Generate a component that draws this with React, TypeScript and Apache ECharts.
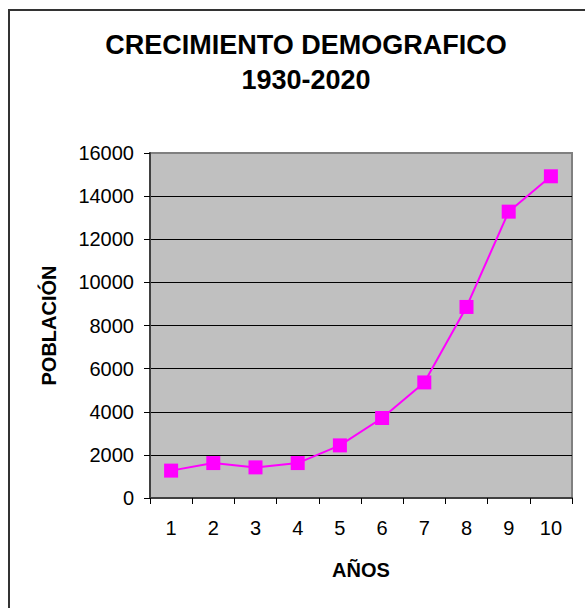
import React, { useEffect, useRef } from "react";
import * as echarts from "echarts";

const categories = ["1", "2", "3", "4", "5", "6", "7", "8", "9", "10"];
const poblacion = [1270, 1620, 1420, 1620, 2440, 3710, 5360, 8860, 13280, 14920];
const titleLines = ["CRECIMIENTO DEMOGRAFICO", "1930-2020"];
const yName = "POBLACIÓN";
const xName = "AÑOS";

export default function App() {
  const ref = useRef<HTMLDivElement>(null);
  useEffect(() => {
    if (!ref.current) return;
    const chart = echarts.init(ref.current, null, { renderer: "svg" });
    const font = "Liberation Sans, Arial, sans-serif";
    chart.setOption({
      animation: false,
      backgroundColor: "#ffffff",
      graphic: [
        {
          type: "rect",
          shape: { x: 9, y: 10, width: 620, height: 640 },
          style: { fill: "none", stroke: "#333333", lineWidth: 2 },
          z: 0,
        },
        {
          type: "text",
          x: 306,
          y: 45,
          style: {
            text: titleLines[0],
            font: `bold 27px ${font}`,
            fill: "#000",
            textAlign: "center",
            textVerticalAlign: "middle",
          },
        },
        {
          type: "text",
          x: 306,
          y: 80,
          style: {
            text: titleLines[1],
            font: `bold 27px ${font}`,
            fill: "#000",
            textAlign: "center",
            textVerticalAlign: "middle",
          },
        },
      ],
      grid: {
        left: 150,
        top: 153,
        right: 13,
        bottom: 110,
        show: true,
        backgroundColor: "#C0C0C0",
        borderColor: "#808080",
        borderWidth: 2,
      },
      xAxis: {
        type: "category",
        data: categories,
        boundaryGap: true,
        name: xName,
        nameLocation: "middle",
        nameGap: 62,
        nameTextStyle: { fontFamily: font, fontWeight: "bold", fontSize: 20, color: "#000" },
        axisLine: { show: true, lineStyle: { color: "#404040", width: 2 } },
        axisTick: { show: true, alignWithLabel: false, length: 6, lineStyle: { color: "#000" } },
        axisLabel: { fontFamily: font, fontSize: 20, color: "#000", margin: 20 },
        splitLine: { show: false },
      },
      yAxis: {
        type: "value",
        min: 0,
        max: 16000,
        interval: 2000,
        name: yName,
        nameLocation: "middle",
        nameRotate: 90,
        nameGap: 91,
        nameTextStyle: { fontFamily: font, fontWeight: "bold", fontSize: 20, color: "#000" },
        axisLine: { show: true, lineStyle: { color: "#404040", width: 2 } },
        axisTick: { show: true, length: 6, lineStyle: { color: "#000" } },
        axisLabel: {
          fontFamily: font,
          fontSize: 20,
          color: "#000",
          margin: 16,
          formatter: (v: number) => String(v),
        },
        splitLine: {
          show: true,
          lineStyle: {
            color: ["#000", "#000", "#000", "#000", "#000", "#000", "#000", "#000", "#808080"],
            width: 1,
          },
        },
      },
      series: [
        {
          type: "line",
          data: poblacion,
          symbol: "rect",
          symbolSize: 14,
          showAllSymbol: true,
          lineStyle: { color: "#FF00FF", width: 2 },
          itemStyle: { color: "#FF00FF" },
        },
      ],
    });
    return () => chart.dispose();
  }, []);
  return <div ref={ref} style={{ width: 585, height: 608, position: "absolute", left: 0, top: 0 }} />;
}
